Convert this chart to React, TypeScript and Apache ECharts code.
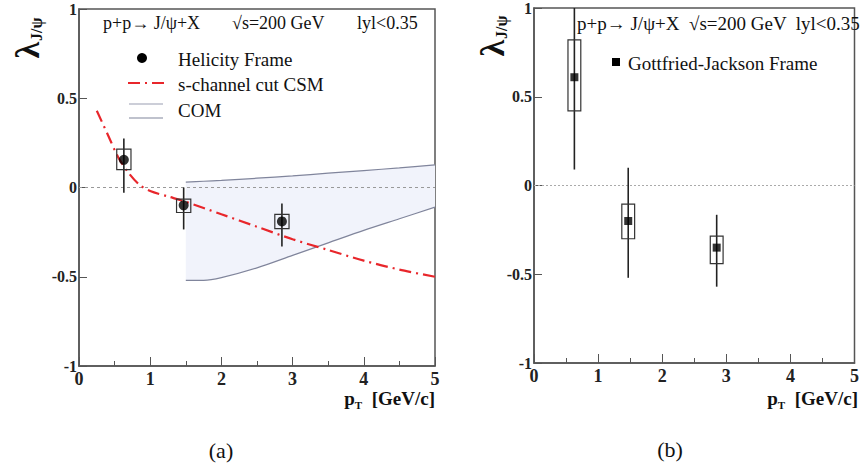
import React, { useEffect, useRef } from "react";
import * as echarts from "echarts";

// ---------- data ----------
const helicityPt = [0.63, 1.47, 2.85];
const helicityVal = [0.155, -0.1, -0.19];
const helicityStatLo = [-0.03, -0.235, -0.33];
const helicityStatHi = [0.275, 0.0, -0.09];
const helicitySysLo = [0.1, -0.14, -0.23];
const helicitySysHi = [0.215, -0.065, -0.15];

const gjPt = [0.63, 1.47, 2.85];
const gjVal = [0.61, -0.2, -0.35];
const gjStatLo = [0.09, -0.52, -0.57];
const gjStatHi = [1.0, 0.1, -0.165];
const gjSysLo = [0.42, -0.3, -0.44];
const gjSysHi = [0.82, -0.105, -0.285];

const csmX = [0.25, 0.4, 0.55, 0.7, 0.85, 1.0, 1.25, 1.5, 2.0, 2.5, 3.0, 3.5, 4.0, 4.5, 5.0];
const csmY = [0.43, 0.3, 0.17, 0.08, 0.015, -0.02, -0.05, -0.08, -0.15, -0.22, -0.29, -0.35, -0.41, -0.46, -0.5];

const comX = [1.5, 1.75, 2.0, 2.5, 3.0, 3.5, 4.0, 4.5, 5.0];
const comUpper = [0.03, 0.035, 0.04, 0.052, 0.065, 0.08, 0.095, 0.11, 0.127];
const comLower = [-0.52, -0.52, -0.505, -0.45, -0.38, -0.31, -0.24, -0.175, -0.11];

const zeroX = [0, 5];
const xTicks = ["0", "1", "2", "3", "4", "5"];
const yTicks = ["-1", "-0.5", "0", "0.5", "1"];

// ---------- style ----------
const FONT = "Liberation Serif";
const BOX_HALF = 0.1;
const AXIS_COLOR = "#555";

function zip(a: number[], b: number[]) {
  return a.map((v, i) => [v, b[i]]);
}

function errRows(x: number[], v: number[], sl: number[], sh: number[], bl: number[], bh: number[]) {
  return x.map((xx, i) => [xx, v[i], sl[i], sh[i], bl[i], bh[i]]);
}

function errorRender(params: any, api: any) {
  const x = api.value(0);
  const sl = api.value(2);
  const sh = api.value(3);
  const bl = api.value(4);
  const bh = api.value(5);
  const top = api.coord([x, sh]);
  const bot = api.coord([x, sl]);
  const b1 = api.coord([x - BOX_HALF, bh]);
  const b2 = api.coord([x + BOX_HALF, bl]);
  return {
    type: "group",
    children: [
      {
        type: "line",
        shape: { x1: top[0], y1: top[1], x2: bot[0], y2: bot[1] },
        style: { stroke: "#222", lineWidth: 1.6 },
      },
      {
        type: "rect",
        shape: { x: b1[0], y: b1[1], width: b2[0] - b1[0], height: b2[1] - b1[1] },
        style: { fill: "none", stroke: "#333", lineWidth: 1.2 },
      },
    ],
  };
}

function bandRender(params: any, api: any) {
  const pts: number[][] = [];
  comX.forEach((x, i) => pts.push(api.coord([x, comUpper[i]])));
  for (let i = comX.length - 1; i >= 0; i--) pts.push(api.coord([comX[i], comLower[i]]));
  return {
    type: "polygon",
    shape: { points: pts },
    style: { fill: "#f1f3fb", stroke: "none" },
  };
}

function makeXAxis(gridIndex: number) {
  return {
    type: "value",
    gridIndex,
    min: 0,
    max: 5,
    interval: 1,
    axisLine: { show: true, onZero: false, lineStyle: { color: AXIS_COLOR, width: 1.5 } },
    axisTick: { show: true, inside: true, length: 9, lineStyle: { color: AXIS_COLOR } },
    minorTick: { show: true, splitNumber: 2, length: 5, lineStyle: { color: AXIS_COLOR } },
    splitLine: { show: false },
    axisLabel: {
      fontFamily: FONT,
      fontSize: 18,
      fontWeight: "bold",
      color: "#222",
      margin: 4,
      formatter: (v: number) => xTicks[Math.round(v)] ?? String(v),
    },
  };
}

function makeYAxis(gridIndex: number) {
  return {
    type: "value",
    gridIndex,
    min: -1,
    max: 1,
    interval: 0.5,
    axisLine: { show: true, onZero: false, lineStyle: { color: AXIS_COLOR, width: 1.5 } },
    axisTick: { show: true, inside: true, length: 8, lineStyle: { color: AXIS_COLOR } },
    splitLine: { show: false },
    axisLabel: {
      fontFamily: FONT,
      fontSize: 16,
      fontWeight: "bold",
      color: "#222",
      margin: 2,
      formatter: (v: number) => yTicks[Math.round((v + 1) * 2)] ?? String(v),
    },
  };
}

function yTitle(x: number, y: number) {
  return {
    type: "text",
    x,
    y,
    rotation: Math.PI / 2,
    style: {
      text: "{l|λ}{s|J/ψ}",
      align: "center",
      verticalAlign: "middle",
      rich: {
        l: { fontFamily: FONT, fontSize: 34, fontWeight: "bold", fill: "#111", lineHeight: 34 },
        s: { fontFamily: FONT, fontSize: 16, fontWeight: "bold", fill: "#111", verticalAlign: "bottom", padding: [14, 0, 0, 1] },
      },
    },
  };
}

function xTitle(x: number, y: number) {
  return {
    type: "text",
    x,
    y,
    style: {
      text: "{p|p}{t|T}{g|  [GeV/c]}",
      align: "right",
      verticalAlign: "middle",
      rich: {
        p: { fontFamily: FONT, fontSize: 19, fontWeight: "bold", fill: "#111" },
        t: { fontFamily: FONT, fontSize: 11, fontWeight: "bold", fill: "#111", padding: [14, 0, 0, 0] },
        g: { fontFamily: FONT, fontSize: 19, fontWeight: "bold", fill: "#111" },
      },
    },
  };
}

function txt(x: number, y: number, text: string, size: number, align = "left") {
  return {
    type: "text",
    x,
    y,
    style: { text, fontFamily: FONT, fontSize: size, fill: "#111", align, verticalAlign: "middle" },
  };
}

export default function App() {
  const ref = useRef<HTMLDivElement>(null);
  useEffect(() => {
    if (!ref.current) return;
    const chart = echarts.init(ref.current, null, { renderer: "svg" });
    const option: any = {
      animation: false,
      backgroundColor: "#ffffff",
      textStyle: { fontFamily: FONT },
      grid: [
        { left: 79, top: 9, width: 356, height: 357, show: true, borderColor: AXIS_COLOR, borderWidth: 1.5, backgroundColor: "transparent" },
        { left: 534, top: 7, width: 325, height: 356, show: true, borderColor: AXIS_COLOR, borderWidth: 1.5, backgroundColor: "transparent" },
      ],
      xAxis: [makeXAxis(0), makeXAxis(1)],
      yAxis: [makeYAxis(0), makeYAxis(1)],
      series: [
        {
          name: "COM band",
          type: "custom",
          xAxisIndex: 0,
          yAxisIndex: 0,
          renderItem: bandRender,
          data: [[comX[0], comUpper[0]]],
          silent: true,
          z: 1,
        },
        {
          name: "zero a",
          type: "line",
          xAxisIndex: 0,
          yAxisIndex: 0,
          data: zeroX.map((x) => [x, 0]),
          symbol: "none",
          lineStyle: { color: "#999", width: 1, type: [3, 3] },
          z: 2,
        },
        {
          name: "zero b",
          type: "line",
          xAxisIndex: 1,
          yAxisIndex: 1,
          data: zeroX.map((x) => [x, 0]),
          symbol: "none",
          lineStyle: { color: "#aaa", width: 1, type: [2, 2] },
          z: 2,
        },
        {
          name: "COM upper",
          type: "line",
          xAxisIndex: 0,
          yAxisIndex: 0,
          data: zip(comX, comUpper),
          symbol: "none",
          smooth: 0.3,
          lineStyle: { color: "#80859c", width: 1.2 },
          z: 3,
        },
        {
          name: "COM lower",
          type: "line",
          xAxisIndex: 0,
          yAxisIndex: 0,
          data: zip(comX, comLower),
          symbol: "none",
          smooth: 0.3,
          lineStyle: { color: "#80859c", width: 1.2 },
          z: 3,
        },
        {
          name: "s-channel cut CSM",
          type: "line",
          xAxisIndex: 0,
          yAxisIndex: 0,
          data: zip(csmX, csmY),
          symbol: "none",
          smooth: 0.3,
          lineStyle: { color: "#e8262b", width: 2.2, type: [12, 5, 2, 5] },
          z: 4,
        },
        {
          name: "Helicity errors",
          type: "custom",
          xAxisIndex: 0,
          yAxisIndex: 0,
          renderItem: errorRender,
          encode: { x: 0, y: 1 },
          data: errRows(helicityPt, helicityVal, helicityStatLo, helicityStatHi, helicitySysLo, helicitySysHi),
          z: 5,
        },
        {
          name: "Helicity Frame",
          type: "scatter",
          xAxisIndex: 0,
          yAxisIndex: 0,
          data: zip(helicityPt, helicityVal),
          symbol: "circle",
          symbolSize: 10,
          itemStyle: { color: "#000" },
          z: 6,
        },
        {
          name: "GJ errors",
          type: "custom",
          xAxisIndex: 1,
          yAxisIndex: 1,
          renderItem: errorRender,
          encode: { x: 0, y: 1 },
          data: errRows(gjPt, gjVal, gjStatLo, gjStatHi, gjSysLo, gjSysHi),
          z: 5,
        },
        {
          name: "Gottfried-Jackson Frame",
          type: "scatter",
          xAxisIndex: 1,
          yAxisIndex: 1,
          data: zip(gjPt, gjVal),
          symbol: "rect",
          symbolSize: 8,
          itemStyle: { color: "#000" },
          z: 6,
        },
      ],
      graphic: [
        // panel (a) header
        txt(103, 23, "p+p→ J/ψ+X", 18),
        txt(232, 23, "√s=200 GeV", 18),
        txt(357, 23, "lyl<0.35", 18),
        // panel (a) legend
        { type: "circle", shape: { cx: 142, cy: 58, r: 5 }, style: { fill: "#000" } },
        txt(178, 59, "Helicity Frame", 19),
        {
          type: "line",
          shape: { x1: 128, y1: 83, x2: 168, y2: 83 },
          style: { stroke: "#e8262b", lineWidth: 2.2, lineDash: [12, 5, 2, 5] },
        },
        txt(178, 84, "s-channel cut CSM", 19),
        { type: "line", shape: { x1: 129, y1: 104, x2: 163, y2: 104 }, style: { stroke: "#9a9eb2", lineWidth: 1.2 } },
        { type: "line", shape: { x1: 129, y1: 118, x2: 163, y2: 118 }, style: { stroke: "#80859c", lineWidth: 1.2 } },
        txt(178, 110, "COM", 19),
        // panel (b) header & legend
        txt(577, 23, "p+p→ J/ψ+X  √s=200 GeV  lyl<0.35", 19),
        { type: "rect", shape: { x: 612, y: 58, width: 8, height: 8 }, style: { fill: "#000" } },
        txt(628, 63, "Gottfried-Jackson Frame", 19),
        // axis titles
        yTitle(27, 38),
        yTitle(492, 36),
        xTitle(435, 398),
        xTitle(858, 398),
        // captions
        txt(221, 450, "(a)", 22, "center"),
        txt(670, 449, "(b)", 22, "center"),
      ],
    };
    chart.setOption(option);
    return () => chart.dispose();
  }, []);
  return (
    <div
      ref={ref}
      style={{ position: "fixed", left: 0, top: 0, width: 862, height: 463, background: "#fff" }}
    />
  );
}
